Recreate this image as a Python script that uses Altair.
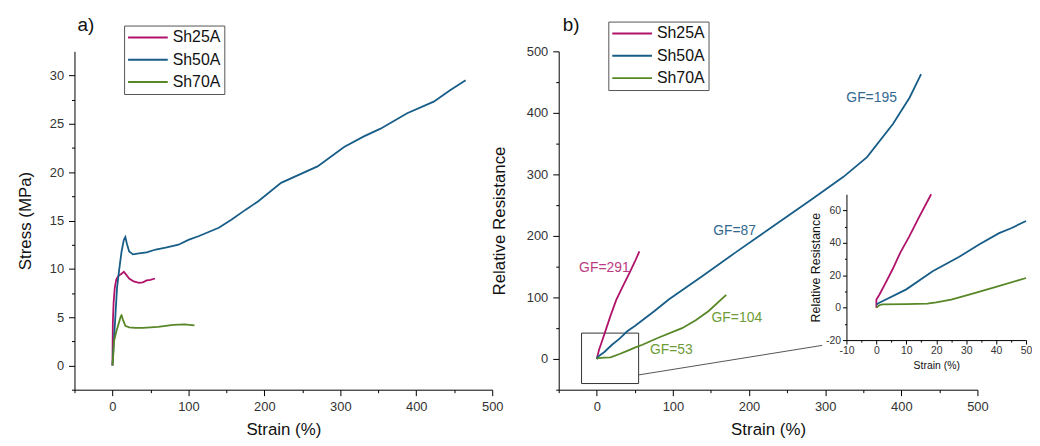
import altair as alt
import pandas as pd

SERIES = ["Sh25A", "Sh50A", "Sh70A"]
LINE_COLORS = ["#b0126a", "#175d88", "#578726"]
LABEL_COLORS = ["#bb3c82", "#33698f", "#6e9c38"]

# ---- a) stress vs strain ----
a25_strain = [0, 0.5, 1.5, 3, 5, 8, 12, 15, 18, 22, 28, 35, 40, 45, 50, 56]
a25_stress = [0, 4.4, 6.5, 8.0, 8.9, 9.3, 9.5, 9.7, 9.4, 9.0, 8.7, 8.55, 8.6, 8.8, 8.85, 9.0]
a50_strain = [0, 3, 6, 9, 12, 15, 17, 19, 22, 27, 35, 45, 57, 70, 87, 100, 114, 140, 157,
              175, 192, 222, 270, 305, 331, 353, 388, 423, 445, 465]
a50_stress = [0, 4, 8, 10, 11.8, 13, 13.3, 12.6, 11.8, 11.5, 11.6, 11.7, 12.0, 12.2, 12.5, 13.0,
              13.4, 14.25, 15.1, 16.1, 17.0, 18.9, 20.6, 22.6, 23.7, 24.5, 26.1, 27.3, 28.5, 29.5]
a70_strain = [0, 1, 2, 5, 8, 11, 12, 14, 17, 22, 30, 40, 60, 80, 95, 108]
a70_stress = [0, 1, 2.5, 3.5, 4.3, 5.1, 5.2, 4.7, 4.1, 3.95, 3.9, 3.9, 4.0, 4.2, 4.25, 4.15]

# ---- b) relative resistance vs strain ----
b25_strain = [0, 1, 3, 5.5, 11, 18, 25.6, 35, 43, 50, 56]
b25_res = [0, 5, 15, 24, 44, 70, 96, 120, 140, 158, 175]
b50_strain = [0, 1, 10, 20, 30, 40, 50, 75, 95, 138, 181, 225, 283, 324, 355, 389, 411, 426]
b50_res = [0, 3, 11.3, 23, 33, 45, 53.5, 77, 97, 134, 172, 210, 260, 296, 328, 382, 425, 463]
b70_strain = [0, 2, 10, 18, 30, 40, 50, 60, 80, 112, 130, 147, 170]
b70_res = [0, 1.5, 2, 2.5, 8, 13, 18.3, 23, 34, 50, 63, 78, 104]

# ---- inset (zoom of b) ----
i25_strain = [0, 0, 1, 3, 5.5, 8, 11, 14, 18.3]
i25_res = [0, 5, 8, 15, 24, 34, 44, 55, 70]
i50_strain = [0, 1, 10, 18.8, 27.7, 34.3, 41, 45, 50]
i50_res = [2, 3, 11.3, 22.5, 31.4, 39, 46, 49, 53.5]
i70_strain = [0, 1, 2, 10, 17, 20, 25, 31.6, 39.4, 50]
i70_res = [0, 1.5, 2, 2.2, 2.5, 3.3, 5, 8.3, 12.5, 18.3]

gf_text = ["GF=291", "GF=195", "GF=87", "GF=104", "GF=53"]
gf_series = ["Sh25A", "Sh50A", "Sh50A", "Sh70A", "Sh70A"]
gf_strain = [10, 361, 181, 184, 98]
gf_res = [148, 424, 208, 67, 14.5]

box_strain = [-20, 55]
box_res = [-40, 42]
link_strain = [55, 296]
link_res = [-26, 22]


def long_df(groups):
    rows = []
    for name, (xs, ys) in zip(SERIES, groups):
        for i, (x, y) in enumerate(zip(xs, ys)):
            rows.append({"series": name, "x": x, "y": y, "i": i})
    return pd.DataFrame(rows)


df_a = long_df([(a25_strain, a25_stress), (a50_strain, a50_stress), (a70_strain, a70_stress)])
df_b = long_df([(b25_strain, b25_res), (b50_strain, b50_res), (b70_strain, b70_res)])
df_i = long_df([(i25_strain, i25_res), (i50_strain, i50_res), (i70_strain, i70_res)])
df_gf = pd.DataFrame({"series": gf_series, "x": gf_strain, "y": gf_res, "t": gf_text})
df_box = pd.DataFrame({"x": [box_strain[0]], "x2": [box_strain[1]], "y": [box_res[0]], "y2": [box_res[1]]})
df_link = pd.DataFrame({"x": [link_strain[0]], "x2": [link_strain[1]], "y": [link_res[0]], "y2": [link_res[1]]})
df_panel = pd.DataFrame({"t": ["a)"]})
df_panel_b = pd.DataFrame({"t": ["b)"]})

W, H = 959, 341
A_X = dict(domain=[-50, 500], range=[0, 421])
A_Y = dict(domain=[-2.5, 32.5], range=[341, 0])
B_X = dict(domain=[-50, 500], range=[488, 910])
B_Y = dict(domain=[-50, 500], range=[341, 0])
I_X = dict(domain=[-10, 50], range=[778, 959])
I_Y = dict(domain=[-20, 70], range=[291, 144])


def sc(d):
    return alt.Scale(domain=d["domain"], range=d["range"], nice=False, zero=False)


def ax(orient, values, title=None, labels=True, tick=6, lsize=13, tsize=17, lpad=5, tpad=8,
       offset=0, domain=True):
    kw = dict(orient=orient, values=values, title=title, labels=labels, tickSize=tick,
              labelFontSize=lsize, titleFontSize=tsize, labelPadding=lpad, titlePadding=tpad,
              offset=offset, domain=domain, grid=False, domainColor="black", tickColor="black",
              labelColor="#333", titleColor="#111", titleFontWeight="normal",
              labelFlush=False, labelOverlap=False, labelExpr="'' + datum.value")
    return alt.Axis(**kw)


def X(d, axis=None, field="x:Q"):
    return alt.X(field, scale=sc(d), axis=axis)


def Y(d, axis=None, field="y:Q"):
    return alt.Y(field, scale=sc(d), axis=axis)


def legend(lx, ly):
    return alt.Legend(orient="none", legendX=lx, legendY=ly, title=None, symbolType="stroke",
                      symbolSize=1600, symbolStrokeWidth=2, labelFontSize=16, labelColor="#111",
                      strokeColor="#555", fillColor="white", padding=3, rowPadding=4.5,
                      clipHeight=18, labelOffset=4)


def color(rng, leg=None):
    if leg is None:
        return alt.Color("series:N", scale=alt.Scale(domain=SERIES, range=rng), legend=None)
    return alt.Color("series:N", scale=alt.Scale(domain=SERIES, range=rng), legend=leg)


ticks_major = [0, 100, 200, 300, 400, 500]
ticks_minor = [-50, 50, 150, 250, 350, 450]

# panel a
a_lines = alt.Chart(df_a).mark_line(strokeWidth=1.8).encode(
    x=X(A_X, ax("bottom", ticks_major, "Strain (%)")),
    y=Y(A_Y, ax("left", [0, 5, 10, 15, 20, 25, 30], "Stress (MPa)", tpad=15)),
    color=color(LINE_COLORS, legend(50, -26)),
    order="i:Q",
)
a_minor = alt.Chart(df_a).mark_line(opacity=0).encode(
    x=X(A_X, ax("bottom", ticks_minor, labels=False, tick=3, domain=False)),
    y=Y(A_Y, ax("left", [-2.5, 2.5, 7.5, 12.5, 17.5, 22.5, 27.5], labels=False, tick=3, domain=False)),
    detail="series:N",
    order="i:Q",
)

# panel b
b_lines = alt.Chart(df_b).mark_line(strokeWidth=1.8).encode(
    x=X(B_X, ax("bottom", ticks_major, "Strain (%)")),
    y=Y(B_Y, ax("left", [0, 100, 200, 300, 400, 500], "Relative Resistance", tpad=18, offset=-488)),
    color=color(LINE_COLORS, legend(538, -30)),
    order="i:Q",
)
b_minor = alt.Chart(df_b).mark_line(opacity=0).encode(
    x=X(B_X, ax("bottom", ticks_minor, labels=False, tick=3, domain=False)),
    y=Y(B_Y, ax("left", [-50, 50, 150, 250, 350, 450], labels=False, tick=3, domain=False, offset=-488)),
    detail="series:N",
    order="i:Q",
)
b_text = alt.Chart(df_gf).mark_text(fontSize=14, align="center", baseline="middle").encode(
    x=X(B_X), y=Y(B_Y), text="t:N", color=color(LABEL_COLORS),
)
b_box = alt.Chart(df_box).mark_rect(fillOpacity=0, stroke="#333", strokeWidth=1).encode(
    x=X(B_X), x2="x2:Q", y=Y(B_Y), y2="y2:Q",
)
b_link = alt.Chart(df_link).mark_rule(stroke="#555", strokeWidth=1).encode(
    x=X(B_X), x2="x2:Q", y=Y(B_Y), y2="y2:Q",
)

# inset
i_lines = alt.Chart(df_i).mark_line(strokeWidth=1.8).encode(
    x=X(I_X, ax("bottom", [-10, 0, 10, 20, 30, 40, 50], "Strain (%)", tick=4, lsize=10.5,
                tsize=10.5, lpad=2, tpad=4, offset=-50)),
    y=Y(I_Y, ax("left", [-20, 0, 20, 40, 60], "Relative Resistance", tick=4, lsize=10.5,
                tsize=12.5, lpad=2, tpad=3, offset=-778)),
    color=color(LINE_COLORS),
    order="i:Q",
)
i_minor = alt.Chart(df_i).mark_line(opacity=0).encode(
    x=X(I_X, ax("bottom", [-5, 5, 15, 25, 35, 45], labels=False, tick=2, domain=False, offset=-50)),
    y=Y(I_Y, ax("left", [-10, 10, 30, 50], labels=False, tick=2, domain=False, offset=-778)),
    detail="series:N",
    order="i:Q",
)

label_a = alt.Chart(df_panel).mark_text(fontSize=19, align="left", baseline="alphabetic", color="#111").encode(
    x=alt.value(3), y=alt.value(-21), text="t:N")
label_b = alt.Chart(df_panel_b).mark_text(fontSize=19, align="left", baseline="alphabetic", color="#111").encode(
    x=alt.value(492), y=alt.value(-21), text="t:N")

chart = alt.layer(
    a_minor, a_lines, b_minor, b_box, b_link, b_lines, b_text, i_minor, i_lines, label_a, label_b
).resolve_scale(
    x="independent", y="independent", color="independent"
).resolve_axis(
    x="independent", y="independent"
).resolve_legend(
    color="independent"
).properties(
    width=W, height=H,
    autosize=alt.AutoSizeParams(type="none"),
    padding={"left": 67, "top": 42, "right": 6, "bottom": 47},
).configure(
    font="Liberation Sans"
).configure_view(
    stroke=None
)

chart.save("out.html", embed_options={"renderer": "svg", "actions": False})
